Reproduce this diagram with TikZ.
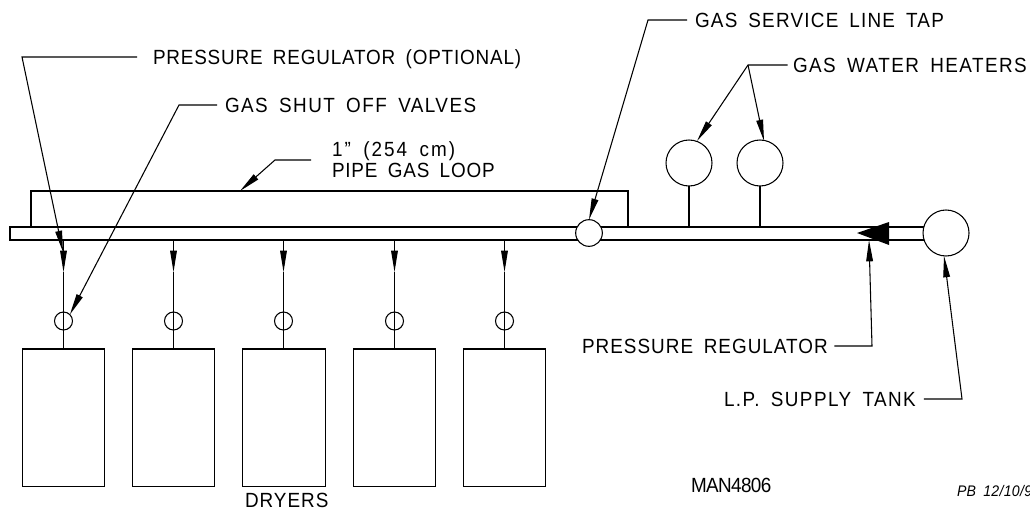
\documentclass[tikz,border=0pt]{standalone}
\usepackage{fontspec}
\setmainfont[LetterSpace=7, FakeStretch=0.92, WordSpace=1.7]{Liberation Sans}
\usetikzlibrary{arrows.meta}
\tikzset{
  pipeline/.style={draw, line width=0.8pt},
  leader/.style={draw, line width=0.8pt, -{Stealth[length=16pt, width=5pt, inset=0pt]}},
  plainline/.style={draw, line width=0.8pt},
  callout/.style={inner sep=0pt, outer sep=0pt, anchor=west, text height=11pt, text depth=0pt, font=\fontsize{15.4}{17}\selectfont},
  spaced/.style={font=\fontsize{15.4}{17}\selectfont\addfontfeatures{LetterSpace=#1}},
  dryerbox/.style={draw, line width=0.8pt, inner sep=0pt, outer sep=0pt, minimum width=62pt, minimum height=103pt, anchor=north},
  valve/.style={circle, draw, line width=0.8pt, inner sep=0pt, outer sep=0pt, minimum size=13.5pt},
  heater/.style={circle, draw, fill=white, line width=0.8pt, inner sep=0pt, outer sep=0pt, minimum size=34.5pt}
}
\begin{document}
\begin{tikzpicture}[x=0.75pt, y=-0.75pt]
\useasboundingbox (0,0) rectangle (1030,510);

% Define coordinates
\coordinate (pipeL) at (10, 227); % Top left of main pipe
\coordinate (pipeR) at (930, 240); % Bottom right, hidden by the tank
\coordinate (loopL) at (31, 227);
\coordinate (loopR) at (628, 191);
\coordinate (regTip) at (857, 233);
\coordinate (regTop) at (889, 222);
\coordinate (regBot) at (889, 245);

% Draw main pipe and loop
\draw[pipeline] (pipeL) rectangle (pipeR);
\draw[pipeline] (loopL) |- (loopR) -- (loopR |- pipeL);

% Draw regulator on the pipe
\fill (regTip) -- (regTop) -- (regBot) -- cycle;

% Draw circles on the pipe
\node[heater, minimum size=20pt] (tap) at (589, 233) {};
\node[heater] (tank) at (946, 233) {};
\node[heater] (heaterA) at (689, 163) {};
\node[heater] (heaterB) at (760, 163) {};
\draw[plainline] (heaterA.south) -- (heaterA.south |- pipeL);
\draw[plainline] (heaterB.south) -- (heaterB.south |- pipeL);

% Draw dryers with their drops and valves
\foreach \n/\x/\bx in {1/63.5/63.5, 2/173.5/173.5, 3/283.5/284, 4/394.5/394.5, 5/504.5/504.5} {
  \coordinate (drop\n) at (\x, 240);
  \coordinate (head\n) at (\x, 272);
  \node[dryerbox] (dryer\n) at (\bx, 349) {};
  \draw[leader] (drop\n) -- (head\n);
  \draw[plainline] (head\n) -- (head\n |- dryer\n.north);
  \node[valve] (valve\n) at (\x, 321) {};
}

% Draw labels
\node[callout, spaced=4] (optional) at (153, 57) {PRESSURE REGULATOR (OPTIONAL)};
\node[callout] (shutoff) at (225, 105) {GAS SHUT OFF VALVES};
\node[callout, spaced=10] (inch) at (332, 149) {1" (254 cm)};
\node[callout, spaced=4] (loop) at (332, 170) {PIPE GAS LOOP};
\node[callout, spaced=6] (taplabel) at (695, 20) {GAS SERVICE LINE TAP};
\node[callout] (heaters) at (793, 65) {GAS WATER HEATERS};
\node[callout, spaced=5] (reglabel) at (582, 346) {PRESSURE REGULATOR};
\node[callout] (tanklabel) at (724, 399) {L.P. SUPPLY TANK};
\node[callout, spaced=-3] (man) at (691, 485) {MAN4806};
\node[callout, spaced=5] (dryers) at (245, 500) {DRYERS};
\node[callout, font=\fontsize{11.5}{13}\itshape\addfontfeatures{LetterSpace=2}] (date) at (957, 489) {PB 12/10/9};

% Define leader bends and tips
\coordinate (optBend) at (22, 57);
\coordinate (optTip) at (63, 252);
\coordinate (shutBend) at (179, 105);
\coordinate (loopEnd) at (311, 160);
\coordinate (loopBend) at (275, 160);
\coordinate (loopTip) at (240, 191);
\coordinate (tapBend) at (648, 20);
\coordinate (heatBend) at (748, 65);
\coordinate (heatTipA) at (697, 141);
\coordinate (heatTipB) at (764, 141);
\coordinate (regBend) at (872, 346);
\coordinate (regPoint) at (869, 240);
\coordinate (tankBend) at (962, 399);

% Draw leaders
\draw[leader] ([xshift=-12pt]optional.west) -- (optBend) -- (optTip);
\draw[leader] ([xshift=-6pt]shutoff.west) -- (shutBend) -- (valve1.north east);
\draw[leader] (loopEnd) -- (loopBend) -- (loopTip);
\draw[leader] ([xshift=-6pt]taplabel.west) -- (tapBend) -- (tap.north);
\draw[leader] ([xshift=-4pt]heaters.west) -- (heatBend) -- (heatTipA);
\draw[leader] (heatBend) -- (heatTipB);
\draw[leader] ([xshift=5pt]reglabel.east) -- (regBend) -- (regPoint);
\draw[leader] ([xshift=6pt]tanklabel.east) -- (tankBend) -- (tank.265);

\end{tikzpicture}
\end{document}
